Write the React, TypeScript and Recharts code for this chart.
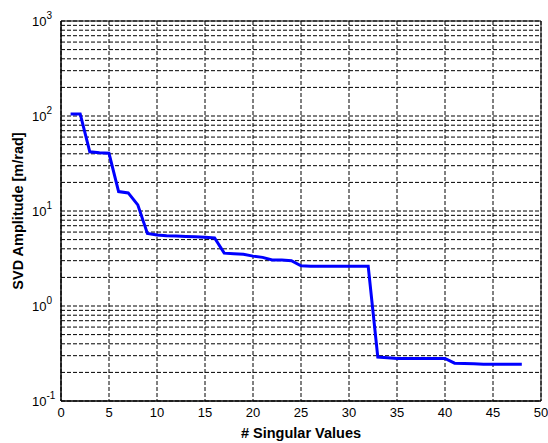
import React from 'react';
import { LineChart, Line, XAxis, YAxis, CartesianGrid, ReferenceArea, Label } from 'recharts';

// singular value index 1..48
const index = [
  1, 2, 3, 4, 5, 6, 7, 8, 9, 10, 11, 12, 13, 14, 15, 16, 17, 18, 19, 20, 21, 22, 23, 24,
  25, 26, 27, 28, 29, 30, 31, 32, 33, 34, 35, 36, 37, 38, 39, 40, 41, 42, 43, 44, 45, 46, 47, 48,
];
const amplitude = [
  105, 105, 42, 41, 40.5, 16, 15.5, 11.6, 5.8, 5.6, 5.5, 5.45, 5.4, 5.35, 5.3, 5.2,
  3.6, 3.55, 3.5, 3.35, 3.25, 3.05, 3.05, 3.0, 2.65, 2.62, 2.62, 2.62, 2.62, 2.62, 2.62, 2.62,
  0.29, 0.285, 0.28, 0.28, 0.28, 0.28, 0.28, 0.28, 0.25, 0.248, 0.246, 0.243, 0.243, 0.243, 0.243, 0.243,
];

const xTicks = [0, 5, 10, 15, 20, 25, 30, 35, 40, 45, 50];
const decades = [0.1, 1, 10, 100, 1000];
const mantissas = [1, 2, 3, 4, 5, 6, 7, 8, 9];

// gridlines at every minor log step, labels only on decades
const yTicks: number[] = [];
decades.forEach((d) => {
  if (d === 1000) yTicks.push(d);
  else mantissas.forEach((m) => yTicks.push(+(d * m).toPrecision(3)));
});

const data = index.map((n, i) => ({ n, amp: amplitude[i] }));

const FONT = '"Liberation Sans", Arial, sans-serif';

const YTick = (props: any) => {
  const { x, y, payload } = props;
  const v = payload.value;
  const exp = Math.round(Math.log10(v));
  if (Math.abs(Math.log10(v) - exp) > 1e-6) return null;
  return (
    <text x={x - 29} y={y + 5} fontFamily={FONT} fontSize={13} fill="#000" textAnchor="start">
      10
      <tspan dy={-7} fontSize={10}>{exp}</tspan>
    </text>
  );
};

export default function App() {
  return (
    <div style={{ position: 'absolute', left: 0, top: 0, background: '#fff' }}>
      <LineChart
        width={548}
        height={443}
        data={data}
        margin={{ top: 21, right: 7, left: 0, bottom: 0 }}
      >
        <CartesianGrid stroke="#000" strokeDasharray="4 2" horizontalValues={yTicks} verticalValues={xTicks} />
        <XAxis
          dataKey="n"
          type="number"
          domain={[0, 50]}
          ticks={xTicks}
          height={42}
          tickSize={0}
          tickMargin={7}
          axisLine={{ stroke: '#000' }}
          tick={{ fill: '#000', fontSize: 13, fontFamily: FONT }}
        >
          <Label
            value="# Singular Values"
            position="insideBottom"
            offset={5}
            style={{ fontFamily: FONT, fontWeight: 'bold', fontSize: 14.5, fill: '#000' }}
          />
        </XAxis>
        <YAxis
          scale="log"
          type="number"
          domain={[0.1, 1000]}
          allowDataOverflow
          ticks={yTicks}
          interval={0}
          width={61}
          tickSize={0}
          tickMargin={0}
          axisLine={{ stroke: '#000' }}
          tick={<YTick />}
        >
          <Label
            value="SVD Amplitude [m/rad]"
            angle={-90}
            position="insideLeft"
            offset={18}
            style={{ textAnchor: 'middle', fontFamily: FONT, fontWeight: 'bold', fontSize: 14.5, fill: '#000' }}
          />
        </YAxis>
        <ReferenceArea x1={0} x2={50} y1={0.1} y2={1000} fill="none" stroke="#000" strokeWidth={1} />
        <Line
          dataKey="amp"
          type="linear"
          stroke="#0000ff"
          strokeWidth={3}
          dot={false}
          isAnimationActive={false}
        />
      </LineChart>
    </div>
  );
}
